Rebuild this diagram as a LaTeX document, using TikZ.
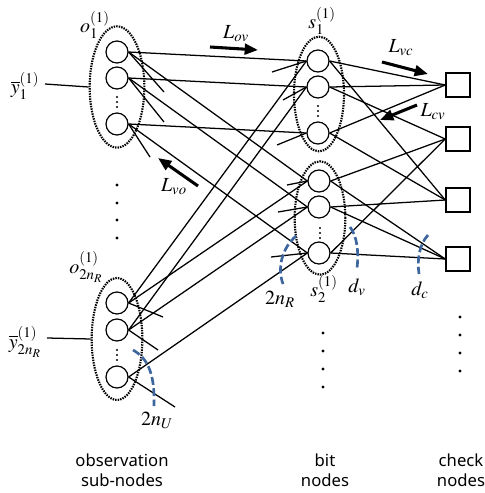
\documentclass[tikz,border=0pt]{standalone}
\usepackage{mathptmx}
\usepackage[no-math]{fontspec}
\newfontfamily\capfont{Noto Sans}
\usetikzlibrary{arrows.meta,shapes.geometric}
\definecolor{arcblue}{RGB}{62,102,158}
\begin{document}
\begin{tikzpicture}[x=0.75pt,y=-0.75pt,
  subn/.style={circle,draw,line width=0.9pt,minimum size=16.5pt,inner sep=0pt},
  chk/.style={rectangle,draw,line width=1.1pt,minimum size=18pt,inner sep=0pt},
  grp/.style={ellipse,draw,line width=1.6pt,dash pattern=on 1.1pt off 0.8pt,inner sep=0pt},
  ln/.style={line width=0.95pt},
  flowarr/.style={line width=2.3pt,-{Triangle[length=10pt,width=8pt]}},
  arcd/.style={draw=arcblue,line width=2pt,dash pattern=on 6pt off 2.5pt},
  lab/.style={inner sep=0pt,font=\fontsize{15}{17}\selectfont},
  bot/.style={align=center,inner sep=0pt,font=\capfont\fontsize{12.5}{15}\selectfont},
  bigdot/.style={circle,fill,inner sep=0pt,minimum size=2.4pt},
  smalldot/.style={circle,fill,inner sep=0pt,minimum size=1.6pt}
]
\useasboundingbox (0,0) rectangle (485,493);

% groups
\node[grp,minimum width=41pt,minimum height=91pt] (gA) at (117,87) {};
\node[grp,minimum width=38pt,minimum height=91.5pt] (gB) at (117,339) {};
\node[grp,minimum width=37.5pt,minimum height=86pt] (gC) at (319,94) {};
\node[grp,minimum width=38pt,minimum height=85pt] (gD) at (320,218) {};

% observation sub-nodes
\node[subn] (oa1) at (117,52) {};
\node[subn] (oa2) at (117,78) {};
\node[subn] (oa3) at (117,124) {};
\node[subn] (ob1) at (117,303) {};
\node[subn] (ob2) at (117,330) {};
\node[subn] (ob3) at (117,377) {};
% bit nodes
\node[subn] (va1) at (318,61) {};
\node[subn] (va2) at (318,87) {};
\node[subn] (va3) at (318,133) {};
\node[subn] (vb1) at (319,181) {};
\node[subn] (vb2) at (319,207) {};
\node[subn] (vb3) at (319,253) {};
% check nodes
\node[chk] (c1) at (458,85) {};
\node[chk] (c2) at (458,139) {};
\node[chk] (c3) at (458,200) {};
\node[chk] (c4) at (458,259) {};

% small vdots in groups
\foreach \yy in {97,102,107} \node[smalldot] at (117,\yy) {};
\foreach \yy in {350,355,360} \node[smalldot] at (117,\yy) {};
\foreach \yy in {106,111,116} \node[smalldot] at (318,\yy) {};
\foreach \yy in {228,233,238} \node[smalldot] at (320,\yy) {};

% big dots
\foreach \yy in {185,203,220,238} \node[bigdot] at (117,\yy) {};
\foreach \yy in {333,351,369,387} \node[bigdot] at (323,\yy) {};
\foreach \yy in {317,335,353,371} \node[bigdot] at (460,\yy) {};

% observation inputs
\coordinate (ya) at (45,84);
\coordinate (yb) at (47,338);
\draw[ln] (ya) -- (gA.west);
\draw[ln] (yb) -- (gB.west);

% obs -> bit edges
\draw[ln] (oa1.east) -- (va1.west);
\draw[ln] (oa1.east) -- (vb1.west);
\draw[ln] (oa2.east) -- (va2.west);
\draw[ln] (oa2.east) -- (vb2.west);
\draw[ln] (oa3.east) -- (va3.west);
\draw[ln] (oa3.east) -- (vb3.west);
\draw[ln] (ob1.east) -- (va1.west);
\draw[ln] (ob1.east) -- (vb1.west);
\draw[ln] (ob2.east) -- (va2.west);
\draw[ln] (ob2.east) -- (vb2.west);
\draw[ln] (ob3.east) -- (vb3.west);

% stubs at observation sub-nodes
\coordinate (sa1) at (164,92);
\coordinate (sa2) at (164,122);
\coordinate (sa3) at (150,157);
\coordinate (sb1) at (163,317);
\coordinate (sb2) at (158,350);
\coordinate (sb3) at (175,407);
\draw[ln] (oa1.east) -- (sa1);
\draw[ln] (oa2.east) -- (sa2);
\draw[ln] (oa3.east) -- (sa3);
\draw[ln] (ob1.east) -- (sb1);
\draw[ln] (ob2.east) -- (sb2);
\draw[ln] (ob3.east) -- (sb3);

% stubs at bit nodes
\coordinate (ta1) at (272,72);
\coordinate (ta2) at (283,100);
\coordinate (ta3) at (277,145);
\coordinate (tb1) at (287,185);
\coordinate (tb2) at (278,212);
\coordinate (tb3) at (271,257);
\draw[ln] (ta1) -- (va1.west);
\draw[ln] (ta2) -- (va2.west);
\draw[ln] (ta3) -- (va3.west);
\draw[ln] (tb1) -- (vb1.west);
\draw[ln] (tb2) -- (vb2.west);
\draw[ln] (tb3) -- (vb3.west);

% bit -> check edges
\draw[ln] (va1.east) -- (c1.west);
\draw[ln] (va1.east) -- (c3.west);
\draw[ln] (va2.east) -- (c1.west);
\draw[ln] (va2.east) -- (c2.west);
\draw[ln] (va3.east) -- (c1.west);
\draw[ln] (va3.east) -- (c3.west);
\draw[ln] (vb1.east) -- (c2.west);
\draw[ln] (vb1.east) -- (c4.west);
\draw[ln] (vb2.east) -- (c3.west);
\draw[ln] (vb2.east) -- (c4.west);
\draw[ln] (vb3.east) -- (c2.west);
\draw[ln] (vb3.east) -- (c4.west);

% message arrows
\coordinate (ov1) at (210,47); \coordinate (ov2) at (258,50);
\coordinate (vc1) at (382,62); \coordinate (vc2) at (428,74);
\coordinate (cv1) at (417,105); \coordinate (cv2) at (380,120);
\coordinate (vo1) at (198,186); \coordinate (vo2) at (158,158);
\draw[flowarr] (ov1) -- (ov2);
\draw[flowarr] (vc1) -- (vc2);
\draw[flowarr] (cv1) -- (cv2);
\draw[flowarr] (vo1) -- (vo2);

% degree arcs
\draw[arcd] (296,236) .. controls (282,248) and (277,268) .. (283,284);
\draw[arcd] (350,227) .. controls (357,236) and (359,252) .. (357,268);
\draw[arcd] (428,235) .. controls (419,245) and (417,260) .. (419,274);
\draw[arcd] (133,350) .. controls (147,358) and (155,372) .. (154,406);

% labels
\node[lab] (lo1) at (95,25) {$o_1^{(1)}$};
\node[lab] (ls1) at (322,21) {$s_1^{(1)}$};
\node[lab] (ls2) at (324,289) {$s_2^{(1)}$};
\node[lab] (lo2) at (86,267) {$o_{2n_R}^{(1)}$};
\node[lab] (ly1) at (25,86) {$\overline{y}_1^{(1)}$};
\node[lab] (ly2) at (25,342) {$\overline{y}_{2n_R}^{(1)}$};
\node[lab] (lov) at (236,34) {$L_{ov}$};
\node[lab] (lvc) at (401,48) {$L_{vc}$};
\node[lab] (lcv) at (433,112) {$L_{cv}$};
\node[lab] (lvo) at (174,187) {$L_{vo}$};
\node[lab] (l2nr) at (280,299) {$2n_R$};
\node[lab] (ldv) at (357,287) {$d_v$};
\node[lab] (ldc) at (420,290) {$d_c$};
\node[lab] (l2nu) at (157,420) {$2n_U$};

% captions
\node[bot] (tobs) at (122,470) {observation\\sub-nodes};
\node[bot] (tbit) at (325,470) {bit\\nodes};
\node[bot] (tchk) at (461,470) {check\\nodes};
\end{tikzpicture}
\end{document}
